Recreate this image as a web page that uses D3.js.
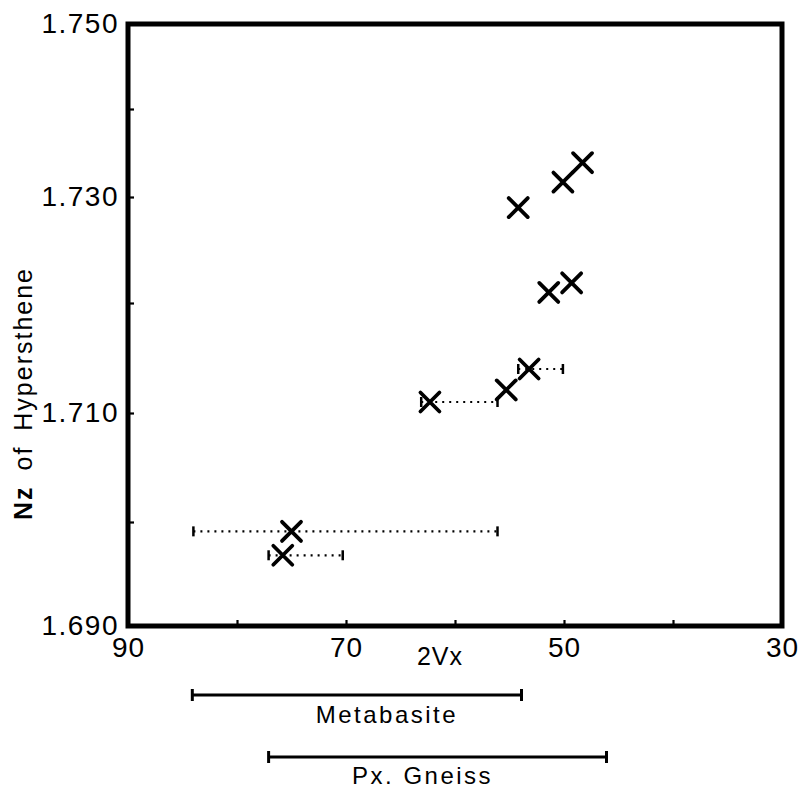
<!DOCTYPE html>
<html>
<head>
<meta charset="utf-8">
<script src="https://cdn.jsdelivr.net/npm/d3@7"></script>
<style>
  html, body { margin: 0; padding: 0; background: #fff; }
  svg { display: block; }
  text { font-family: "Liberation Sans", Arial, sans-serif; fill: #000; }
</style>
</head>
<body>
<svg id="chart" width="803" height="794"></svg>
<script>
// ---- data ----
const yTicks = [1.690, 1.700, 1.710, 1.720, 1.730, 1.740, 1.750];
const yLabels = [1.690, 1.710, 1.730, 1.750];
const xTicks = [90, 80, 70, 60, 50, 40, 30];
const xLabels = [90, 70, 50, 30];

const v2x = [54.2, 50.1, 48.3, 51.4, 49.3, 53.2, 55.3, 62.3, 75.0, 75.8];
const nz  = [1.7290, 1.7317, 1.7339, 1.7210, 1.7219, 1.7140, 1.7121, 1.7110, 1.6991, 1.6968];

// dotted ranges of 2Vx for some points (index into arrays above)
const errIndex = [5, 7, 8, 9];
const errLow   = [54.2, 63.1, 84.0, 77.1];
const errHigh  = [50.1, 56.1, 56.1, 70.3];

const rangeNames = ["Metabasite", "Px. Gneiss"];
const rangeFrom  = [84.1, 77.1];
const rangeTo    = [53.9, 46.1];

// ---- layout ----
const svg = d3.select("#chart");
const mLeft = 128, mRight = 782, mTop = 24, mBottom = 626;

const x = d3.scaleLinear().domain([90, 30]).range([mLeft, mRight]);
// the printed figure is slightly compressed towards the top; follow its tick positions
const y = d3.scaleLinear().domain(yTicks).range([626, 522, 413, 303, 197, 109, 24]);

// axes (ticks + labels)
const fmtY = d3.format(".3f");
const yAxis = d3.axisLeft(y).tickValues(yTicks).tickSize(-6).tickPadding(9)
  .tickFormat(d => yLabels.some(v => Math.abs(v - d) < 1e-9) ? fmtY(d) : "");
const xAxis = d3.axisBottom(x).tickValues(xTicks).tickSize(-6).tickPadding(11)
  .tickFormat(d => xLabels.includes(d) ? d : "");

const gy = svg.append("g").attr("transform", `translate(${mLeft},0)`).call(yAxis);
const gx = svg.append("g").attr("transform", `translate(0,${mBottom})`).call(xAxis);
[gx, gy].forEach(g => {
  g.select(".domain").remove();
  g.selectAll(".tick line").attr("stroke", "#000").attr("stroke-width", 2.2);
  g.selectAll(".tick text").style("font-size", "28px").attr("fill", "#000");
});
gy.selectAll(".tick text").attr("letter-spacing", "1.5px");
gx.selectAll(".tick text").attr("letter-spacing", "1px");

// frame
svg.append("rect")
  .attr("x", mLeft).attr("y", mTop)
  .attr("width", mRight - mLeft).attr("height", mBottom - mTop)
  .attr("fill", "none").attr("stroke", "#000").attr("stroke-width", 5);

// axis titles
const yt = svg.append("text")
  .attr("transform", `translate(32,${(265 + 522) / 2}) rotate(-90)`)
  .attr("text-anchor", "middle")
  .style("font-size", "25px")
  .attr("letter-spacing", "2px")
  .attr("word-spacing", "6px");
yt.append("tspan").style("font-weight", "bold").text("Nz");
yt.append("tspan").text(" of Hypersthene");

svg.append("text")
  .attr("x", 440).attr("y", 665)
  .attr("text-anchor", "middle")
  .style("font-size", "25px")
  .attr("letter-spacing", "1px")
  .text("2Vx");

// dotted error ranges
const eg = svg.append("g");
errIndex.forEach((idx, k) => {
  const yy = y(nz[idx]);
  eg.append("line")
    .attr("x1", x(errLow[k])).attr("x2", x(errHigh[k]))
    .attr("y1", yy).attr("y2", yy)
    .attr("stroke", "#000").attr("stroke-width", 2.2)
    .attr("stroke-dasharray", "2,5");
  [errLow[k], errHigh[k]].forEach(v => {
    eg.append("line")
      .attr("x1", x(v)).attr("x2", x(v))
      .attr("y1", yy - 5).attr("y2", yy + 5)
      .attr("stroke", "#000").attr("stroke-width", 2.5);
  });
});

// X markers
const s = 9.5;
const mg = svg.append("g");
v2x.forEach((v, i) => {
  const cx = x(v), cy = y(nz[i]);
  mg.append("path")
    .attr("d", `M${cx - s},${cy - s}L${cx + s},${cy + s}M${cx - s},${cy + s}L${cx + s},${cy - s}`)
    .attr("stroke", "#000").attr("stroke-width", 3.8).attr("stroke-linecap", "round")
    .attr("fill", "none");
});

// composition range bars below axis
const barY = [695, 757];
const labY = [723, 784];
rangeNames.forEach((name, i) => {
  const g = svg.append("g");
  g.append("line")
    .attr("x1", x(rangeFrom[i])).attr("x2", x(rangeTo[i]))
    .attr("y1", barY[i]).attr("y2", barY[i])
    .attr("stroke", "#000").attr("stroke-width", 3);
  [rangeFrom[i], rangeTo[i]].forEach(v => {
    g.append("line")
      .attr("x1", x(v)).attr("x2", x(v))
      .attr("y1", barY[i] - 6).attr("y2", barY[i] + 6)
      .attr("stroke", "#000").attr("stroke-width", 3);
  });
  g.append("text")
    .attr("x", (x(rangeFrom[i]) + x(rangeTo[i])) / 2 + (i === 0 ? 30 : -15))
    .attr("y", labY[i])
    .attr("text-anchor", "middle")
    .style("font-size", "24px")
    .attr("letter-spacing", "2.5px")
    .text(name);
});
</script>
</body>
</html>
